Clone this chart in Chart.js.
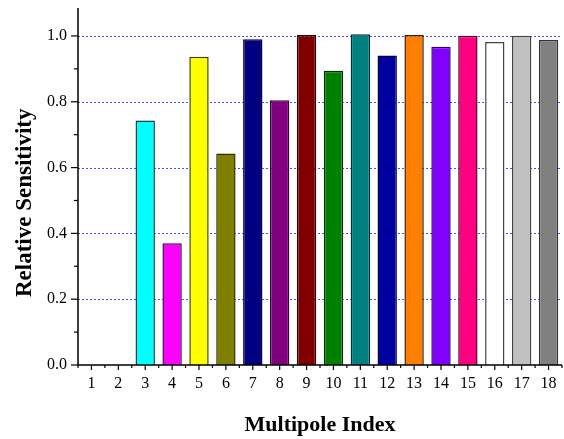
<!DOCTYPE html>
<html><head><meta charset="utf-8">
<script src="https://cdn.jsdelivr.net/npm/chart.js@4/dist/chart.umd.min.js"></script>
<style>html,body{margin:0;padding:0;background:#fff}#wrap{width:564px;height:439px}</style>
</head><body><div id="wrap"><canvas id="c" width="564" height="439"></canvas></div>
<script>
const categories = ['1','2','3','4','5','6','7','8','9','10','11','12','13','14','15','16','17','18'];
const sensitivity = [0, 0, 0.743, 0.370, 0.937, 0.643, 0.990, 0.805, 1.003, 0.894, 1.005, 0.941, 1.003, 0.967, 1.001, 0.982, 1.001, 0.988];
const barColors = ['#00ffff','#00ffff','#00ffff','#ff00ff','#ffff00','#808000','#000080','#800080','#800000','#008000','#008080','#0000a0','#ff8000','#8000ff','#ff0080','#ffffff','#c0c0c0','#808080'];
const borderColors = ['#004040','#004040','#004040','#500050','#404000','#303000','#000030','#300030','#300000','#003000','#003030','#000040','#402000','#300060','#500030','#444444','#444444','#333333'];
const yTickValues = [0, 0.2, 0.4, 0.6, 0.8, 1.0];
const yMinorValues = [0.1, 0.3, 0.5, 0.7, 0.9];
const yMax = 1.085;
const yTitle = 'Relative Sensitivity';
const xTitle = 'Multipole Index';

const FONT = "'Liberation Serif','Times New Roman',serif";

const axesPlugin = {
  id: 'axesPlugin',
  beforeDatasetsDraw(chart) {
    const {ctx, chartArea: a, scales: {y}} = chart;
    ctx.save();
    ctx.strokeStyle = '#4a4aff';
    ctx.lineWidth = 1;
    ctx.setLineDash([2, 2]);
    yTickValues.forEach(v => {
      if (v === 0) return;
      const py = Math.round(y.getPixelForValue(v)) + 0.5;
      ctx.beginPath(); ctx.moveTo(a.left, py); ctx.lineTo(a.right, py); ctx.stroke();
    });
    ctx.restore();
  },
  afterDatasetsDraw(chart) {
    const {ctx, chartArea: a, scales: {x, y}} = chart;
    ctx.save();
    ctx.strokeStyle = '#000';
    ctx.lineWidth = 1.5;
    ctx.beginPath();
    ctx.moveTo(a.left, a.top); ctx.lineTo(a.left, a.bottom); ctx.lineTo(a.right, a.bottom);
    ctx.stroke();
    ctx.lineWidth = 1.2;
    yTickValues.forEach(v => {
      const py = y.getPixelForValue(v);
      ctx.beginPath(); ctx.moveTo(a.left - 7, py); ctx.lineTo(a.left, py); ctx.stroke();
    });
    yMinorValues.forEach(v => {
      const py = y.getPixelForValue(v);
      ctx.beginPath(); ctx.moveTo(a.left - 4, py); ctx.lineTo(a.left, py); ctx.stroke();
    });
    categories.forEach((c, i) => {
      const px = x.getPixelForValue(i);
      ctx.beginPath(); ctx.moveTo(px, a.bottom); ctx.lineTo(px, a.bottom + 5); ctx.stroke();
      const bx = x.getPixelForValue(i - 0.5);
      ctx.beginPath(); ctx.moveTo(bx, a.bottom); ctx.lineTo(bx, a.bottom + 3); ctx.stroke();
    });
    const lastB = x.getPixelForValue(categories.length - 0.5);
    ctx.beginPath(); ctx.moveTo(lastB, a.bottom); ctx.lineTo(lastB, a.bottom + 3); ctx.stroke();
    // y-axis title, centred where the original places it
    ctx.fillStyle = '#000';
    ctx.font = 'bold 23px ' + FONT;
    ctx.textAlign = 'center';
    ctx.textBaseline = 'middle';
    ctx.translate(25, y.getPixelForValue(0.493));
    ctx.rotate(-Math.PI / 2);
    ctx.fillText(yTitle, 0, 0);
    ctx.restore();
  }
};

new Chart(document.getElementById('c'), {
  type: 'bar',
  data: {
    labels: categories,
    datasets: [{
      data: sensitivity,
      backgroundColor: barColors,
      borderColor: borderColors,
      borderWidth: 1.5,
      categoryPercentage: 1,
      barPercentage: 0.72
    }]
  },
  options: {
    responsive: false,
    animation: false,
    devicePixelRatio: 1,
    layout: {padding: {top: 8, right: 2, left: 0, bottom: 0}},
    plugins: {legend: {display: false}, tooltip: {enabled: false}},
    scales: {
      x: {
        grid: {display: false, drawTicks: false},
        border: {display: false},
        ticks: {color: '#000', font: {family: FONT, size: 16}, padding: 9, maxRotation: 0, autoSkip: false},
        title: {display: true, text: xTitle, color: '#000', font: {family: FONT, size: 22, weight: 'bold'}, padding: {top: 0, bottom: 0}},
        afterFit(s) { s.height = 74; s.paddingLeft = 0; s.paddingRight = 0; }
      },
      y: {
        min: 0, max: yMax,
        grid: {display: false, drawTicks: false},
        border: {display: false},
        afterBuildTicks(s) { s.ticks = yTickValues.map(v => ({value: v})); },
        ticks: {color: '#000', font: {family: FONT, size: 16}, padding: 11, callback: v => Number(v).toFixed(1)},
        title: {display: false},
        afterFit(s) { s.width = 78; s.paddingTop = 0; s.paddingBottom = 0; }
      }
    }
  },
  plugins: [axesPlugin, {id: 'bg', beforeDraw(chart) { const c = chart.ctx; c.save(); c.fillStyle = '#fff'; c.fillRect(0, 0, chart.width, chart.height); c.restore(); }}]
});
</script>
</body></html>
